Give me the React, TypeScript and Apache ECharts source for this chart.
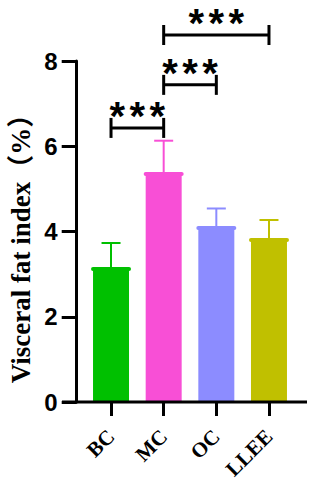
import React, { useEffect, useRef } from "react";
import * as echarts from "echarts";

const categories = ["BC", "MC", "OC", "LLEE"];
const means = [3.12, 5.35, 4.08, 3.8];
const sds = [0.61, 0.78, 0.46, 0.47];
const colors = ["#00c000", "#f84fd6", "#8c8cff", "#c0c000"];
const yMin = 0;
const yMax = 8;
const yStep = 2;
// [group A index, group B index, bracket level (y value)]
const comparisons = [
  [0, 1, 6.43],
  [1, 2, 7.44],
  [1, 3, 8.61],
];
const comparisonLabels = ["***", "***", "***"];
const yTitle = "Visceral fat index（%）";

export default function App() {
  const ref = useRef<HTMLDivElement>(null);
  useEffect(() => {
    document.body.style.margin = "0";
    const chart = echarts.init(ref.current!, null, { renderer: "svg" });
    const option: any = {
      animation: false,
      backgroundColor: "#ffffff",
      grid: { left: 84.7, right: 16.7, top: 61, bottom: 84, containLabel: false },
      xAxis: {
        type: "category",
        data: categories,
        axisLine: { show: false },
        axisTick: {
          show: true,
          alignWithLabel: true,
          length: 14,
          lineStyle: { color: "#000", width: 3 },
        },
        axisLabel: {
          rotate: 45,
          margin: 31,
          color: "#000",
          fontFamily: "Liberation Serif",
          fontWeight: "bold",
          fontSize: 21,
        },
      },
      yAxis: {
        type: "value",
        min: yMin,
        max: yMax,
        interval: yStep,
        offset: 8,
        axisLine: { show: true, lineStyle: { color: "#000", width: 3 } },
        axisTick: { show: true, length: 15, lineStyle: { color: "#000", width: 3 } },
        splitLine: { show: false },
        axisLabel: {
          margin: 19,
          color: "#000",
          fontFamily: "Liberation Sans",
          fontWeight: "bold",
          fontSize: 24,
        },
      },
      graphic: [
        {
          type: "line",
          shape: { x1: 62, y1: 402, x2: 307, y2: 402 },
          style: { stroke: "#000", lineWidth: 3 },
          z: 10,
        },
        {
          type: "text",
          x: 21,
          y: 242,
          rotation: Math.PI / 2,
          style: {
            text: yTitle,
            fill: "#000",
            font: "bold 27px 'Liberation Serif', 'Noto Sans CJK SC', serif",
            align: "center",
            verticalAlign: "middle",
          },
        },
      ],
      series: [
        {
          type: "bar",
          barWidth: 36,
          data: means.map((m, i) => ({ value: m, itemStyle: { color: colors[i] } })),
          z: 2,
        },
        {
          type: "custom",
          z: 3,
          data: means.map((m, i) => [i, m, sds[i]]),
          renderItem: (params: any, api: any) => {
            const i = api.value(0);
            const m = api.value(1);
            const s = api.value(2);
            const base = api.coord([i, m]);
            const top = api.coord([i, m + s]);
            const c = colors[params.dataIndex];
            return {
              type: "group",
              children: [
                {
                  type: "line",
                  shape: { x1: base[0], y1: base[1], x2: top[0], y2: top[1] },
                  style: { stroke: c, lineWidth: 2 },
                },
                {
                  type: "line",
                  shape: { x1: top[0] - 9.5, y1: top[1], x2: top[0] + 9.5, y2: top[1] },
                  style: { stroke: c, lineWidth: 2 },
                },
                {
                  type: "line",
                  shape: { x1: base[0] - 18, y1: base[1], x2: base[0] + 18, y2: base[1] },
                  style: { stroke: c, lineWidth: 4, lineCap: "round" },
                },
              ],
            };
          },
        },
        {
          type: "custom",
          z: 4,
          clip: false,
          data: comparisons,
          renderItem: (params: any, api: any) => {
            const a = api.value(0);
            const b = api.value(1);
            const lvl = api.value(2);
            const p1 = api.coord([a, lvl]);
            const p2 = api.coord([b, lvl]);
            const y = p1[1];
            const mid = (p1[0] + p2[0]) / 2;
            const label = comparisonLabels[params.dataIndex];
            const starChildren = label.split("").map((ch: string, k: number) => ({
              type: "text",
              x: mid + (k - (label.length - 1) / 2) * 20,
              y: y - 12,
              style: {
                text: ch,
                fill: "#000",
                font: "bold 40px 'Liberation Sans', Arial, sans-serif",
                align: "center",
                verticalAlign: "middle",
              },
            }));
            return {
              type: "group",
              children: [
                {
                  type: "line",
                  shape: { x1: p1[0], y1: y, x2: p2[0], y2: y },
                  style: { stroke: "#000", lineWidth: 3 },
                },
                {
                  type: "line",
                  shape: { x1: p1[0], y1: y - 10, x2: p1[0], y2: y + 10 },
                  style: { stroke: "#000", lineWidth: 3 },
                },
                {
                  type: "line",
                  shape: { x1: p2[0], y1: y - 10, x2: p2[0], y2: y + 10 },
                  style: { stroke: "#000", lineWidth: 3 },
                },
                ...starChildren,
              ],
            };
          },
        },
      ],
    };
    chart.setOption(option);
    return () => chart.dispose();
  }, []);
  return <div ref={ref} style={{ width: 312, height: 486 }} />;
}
